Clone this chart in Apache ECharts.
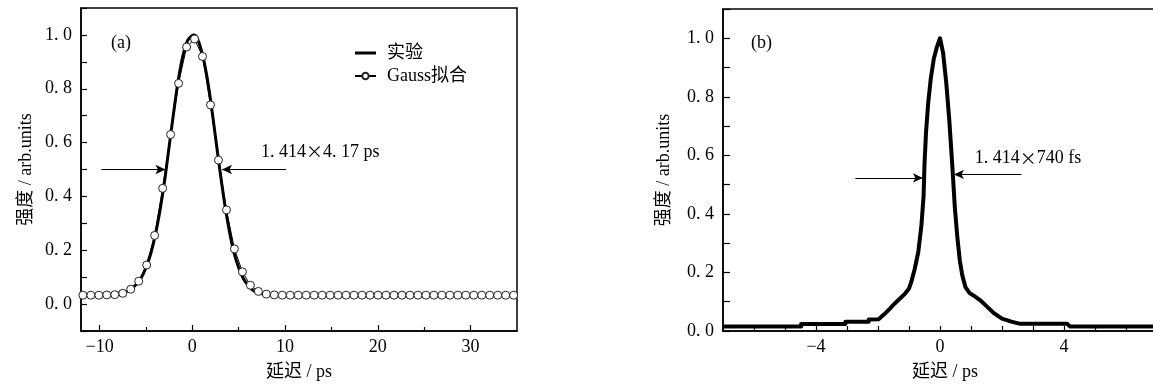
<!DOCTYPE html>
<html><head><meta charset="utf-8">
<script src="https://cdn.jsdelivr.net/npm/echarts@6/dist/echarts.min.js"></script>
<style>html,body{margin:0;padding:0;background:#fff}#c{width:1153px;height:385px}</style>
</head><body><div id="c"></div>
<script>
// ---- Panel (a): experiment ----
const expX = [-8.0, -7.0, -6.5, -6.0, -5.5, -5.0, -4.5, -4.0, -3.5, -3.0, -2.5, -2.0, -1.5, -1.0, -0.5, 0.0, 0.2, 0.5, 1.0, 1.5, 2.0, 2.5, 3.0, 3.5, 4.0, 4.5, 5.0, 5.5, 6.0, 6.5, 7.0, 8.0];
const expY = [0.040, 0.048, 0.058, 0.075, 0.098, 0.135, 0.185, 0.255, 0.345, 0.455, 0.585, 0.715, 0.835, 0.925, 0.98, 0.998, 1.0, 0.99, 0.94, 0.86, 0.75, 0.62, 0.49, 0.37, 0.27, 0.19, 0.135, 0.095, 0.07, 0.052, 0.043, 0.035];
// ---- Panel (a): Gauss fit points ----
const fitX = [-11.8, -10.94, -10.08, -9.22, -8.36, -7.5, -6.64, -5.78, -4.92, -4.06, -3.2, -2.34, -1.48, -0.62, 0.24, 1.1, 1.96, 2.82, 3.68, 4.54, 5.4, 6.26, 7.12, 7.98, 8.84, 9.7, 10.56, 11.42, 12.28, 13.14, 14.0, 14.86, 15.72, 16.58, 17.44, 18.3, 19.16, 20.02, 20.88, 21.74, 22.6, 23.46, 24.32, 25.18, 26.04, 26.9, 27.76, 28.62, 29.48, 30.34, 31.2, 32.06, 32.92, 33.78, 34.64];
const fitY = [0.033, 0.033, 0.033, 0.034, 0.035, 0.040, 0.055, 0.085, 0.145, 0.255, 0.43, 0.63, 0.82, 0.955, 0.985, 0.92, 0.74, 0.535, 0.35, 0.205, 0.12, 0.07, 0.047, 0.037, 0.034, 0.033, 0.033, 0.033, 0.033, 0.033, 0.033, 0.033, 0.033, 0.033, 0.033, 0.033, 0.033, 0.033, 0.033, 0.033, 0.033, 0.033, 0.033, 0.033, 0.033, 0.033, 0.033, 0.033, 0.033, 0.033, 0.033, 0.033, 0.033, 0.033, 0.033];
// ---- Panel (b): experiment ----
const bX = [-7.0, -4.48, -4.48, -3.05, -3.05, -2.3, -2.3, -1.98, -1.8, -1.6, -1.45, -1.3, -1.15, -1.0, -0.92, -0.82, -0.7, -0.6, -0.53, -0.5, -0.45, -0.38, -0.3, -0.2, -0.1, 0.0, 0.1, 0.2, 0.3, 0.4, 0.48, 0.56, 0.64, 0.72, 0.82, 0.95, 1.1, 1.3, 1.5, 1.75, 2.0, 2.3, 2.56, 4.1, 4.2, 7.0];
const bY = [0.015, 0.015, 0.024, 0.024, 0.032, 0.032, 0.039, 0.040, 0.057, 0.078, 0.095, 0.11, 0.125, 0.145, 0.17, 0.21, 0.27, 0.36, 0.46, 0.57, 0.68, 0.78, 0.86, 0.93, 0.97, 1.0, 0.95, 0.85, 0.72, 0.56, 0.42, 0.32, 0.24, 0.19, 0.15, 0.13, 0.12, 0.105, 0.085, 0.06, 0.042, 0.032, 0.025, 0.025, 0.015, 0.015];
// ---- annotations (data coordinates) ----
const arrowsA = [[[-9.8, 0.5], [-2.9, 0.5]], [[10.1, 0.5], [3.2, 0.5]]];
const textA = {pos: [7.4, 0.565], text: '1. 414{m|×}4. 17 ps'};
const arrowsB = [[[-2.73, 0.523], [-0.55, 0.523]], [[2.63, 0.535], [0.45, 0.535]]];
const textB = {pos: [1.12, 0.59], text: '1. 414{m|×}740 fs'};
// ---- tick labels ----
const aMajor = [-10, 0, 10, 20, 30];
const aMinor = [-5, 5, 15, 25];
const yName = '强度 / arb.units';
const xName = '延迟 / ps';
const legendNames = ['实验', 'Gauss拟合'];

const FONT = "'Liberation Serif', 'Noto Sans CJK SC', serif";
const CJK = "'Noto Sans CJK SC', sans-serif";
const FS = 18;
const zip = (xs, ys) => xs.map((x, i) => [x, ys[i]]);
const minus = v => (v < 0 ? '\u2212' + (-v) : String(v));
const yFmt = v => { const r = Math.round(v * 10); if (r < 0 || r > 10 || r % 2) return ''; return (r / 10).toFixed(1).replace('.', '. '); };
const txt = {color: '#000', fontFamily: FONT, fontSize: FS};
const axLine = {show: true, onZero: false, lineStyle: {color: '#000', width: 1.5}};

function arrowMark(arr) {
  return {
    silent: true, animation: false,
    symbol: ['none', 'arrow'], symbolSize: [7, 10],
    lineStyle: {color: '#000', width: 1.2, type: 'solid'},
    label: {show: false},
    data: arr.map(a => [{coord: a[0]}, {coord: a[1]}])
  };
}
function textMark(t) {
  return {
    silent: true, animation: false,
    data: [{coord: t.pos, symbol: 'circle', symbolSize: 0,
      label: {show: true, position: 'right', distance: 0, formatter: t.text, ...txt,
        rich: {m: {fontFamily: CJK, fontSize: FS - 1, color: '#000'}}}}]
  };
}

const chart = echarts.init(document.getElementById('c'), null, {renderer: 'canvas'});
chart.setOption({
  animation: false,
  backgroundColor: '#fff',
  grid: [
    {left: 81, top: 8, width: 436, height: 323, show: true, borderColor: '#000', borderWidth: 1.5, outerBoundsMode: 'none', containLabel: false},
    {left: 723, top: 9, width: 434, height: 322, show: true, borderColor: '#000', borderWidth: 1.5, outerBoundsMode: 'none', containLabel: false}
  ],
  legend: {
    data: [{name: legendNames[0], icon: 'path://M0,0H21V3H0Z'}, {name: legendNames[1]}],
    left: 349, top: 39, orient: 'vertical',
    itemWidth: 21, itemHeight: 8, itemGap: 5,
    textStyle: {...txt, padding: [0, 0, 0, 6]}
  },
  graphic: [
    {type: 'text', left: 111, top: 34, style: {text: '(a)', fill: '#000', font: FS + 'px ' + FONT}},
    {type: 'text', left: 751, top: 34, style: {text: '(b)', fill: '#000', font: FS + 'px ' + FONT}}
  ],
  xAxis: [
    {gridIndex: 0, type: 'value', min: -12, max: 35, position: 'bottom',
      name: xName, nameLocation: 'middle', nameGap: 32, nameTextStyle: {...txt},
      axisLine: axLine,
      axisTick: {show: true, inside: true, length: 6, customValues: aMajor, lineStyle: {color: '#000', width: 1.2}},
      axisLabel: {customValues: aMajor, formatter: minus, margin: 7, ...txt},
      splitLine: {show: false}},
    {gridIndex: 0, type: 'value', min: -12, max: 35, position: 'bottom', offset: 0,
      axisLine: {show: false, onZero: false},
      axisTick: {show: true, inside: true, length: 4, customValues: aMinor, lineStyle: {color: '#000', width: 1.2}},
      axisLabel: {show: false}, splitLine: {show: false}},
    {gridIndex: 1, type: 'value', min: -7, max: 7, interval: 1, position: 'bottom',
      name: xName, nameLocation: 'middle', nameGap: 32, nameTextStyle: {...txt, padding: [0, 0, 0, 10]},
      axisLine: axLine,
      axisTick: {show: true, inside: true, length: 5, lineStyle: {color: '#000', width: 1.2}},
      axisLabel: {formatter: v => (Math.abs(v) <= 4 && v % 4 === 0 ? minus(v) : ''), margin: 7, showMinLabel: true, showMaxLabel: true, ...txt},
      splitLine: {show: false}}
  ],
  yAxis: [
    {gridIndex: 0, type: 'value', min: -0.1, max: 1.1, interval: 0.1,
      name: yName, nameLocation: 'middle', nameGap: 46, nameRotate: 90, nameTextStyle: {...txt},
      axisLine: axLine,
      axisTick: {show: true, inside: true, length: 6, lineStyle: {color: '#000', width: 1.2}},
      axisLabel: {formatter: yFmt, margin: 9, ...txt, showMinLabel: true, showMaxLabel: true},
      splitLine: {show: false}},
    {gridIndex: 1, type: 'value', min: 0, max: 1.1, interval: 0.1,
      name: yName, nameLocation: 'middle', nameGap: 50, nameRotate: 90, nameTextStyle: {...txt},
      axisLine: axLine,
      axisTick: {show: true, inside: true, length: 7, lineStyle: {color: '#000', width: 1.2}},
      axisLabel: {formatter: yFmt, margin: 9, ...txt, showMinLabel: true, showMaxLabel: true},
      splitLine: {show: false}}
  ],
  series: [
    {name: '实验', type: 'line', xAxisIndex: 0, yAxisIndex: 0, data: zip(expX, expY),
      showSymbol: false, symbol: 'none', smooth: 0.3, z: 2,
      lineStyle: {color: '#000', width: 3}, itemStyle: {color: '#000'},
      markLine: arrowMark(arrowsA), markPoint: textMark(textA)},
    {name: 'Gauss拟合', type: 'line', xAxisIndex: 0, yAxisIndex: 0, data: zip(fitX, fitY),
      symbol: 'circle', symbolSize: 8, showSymbol: true, z: 3,
      lineStyle: {color: '#000', width: 1},
      itemStyle: {color: '#fff', borderColor: '#222', borderWidth: 1}},
    {name: 'b', type: 'line', xAxisIndex: 2, yAxisIndex: 1, data: zip(bX, bY),
      showSymbol: false, symbol: 'none', z: 2,
      lineStyle: {color: '#000', width: 4, join: 'round'},
      markLine: arrowMark(arrowsB), markPoint: textMark(textB)}
  ]
});
</script>
</body></html>
